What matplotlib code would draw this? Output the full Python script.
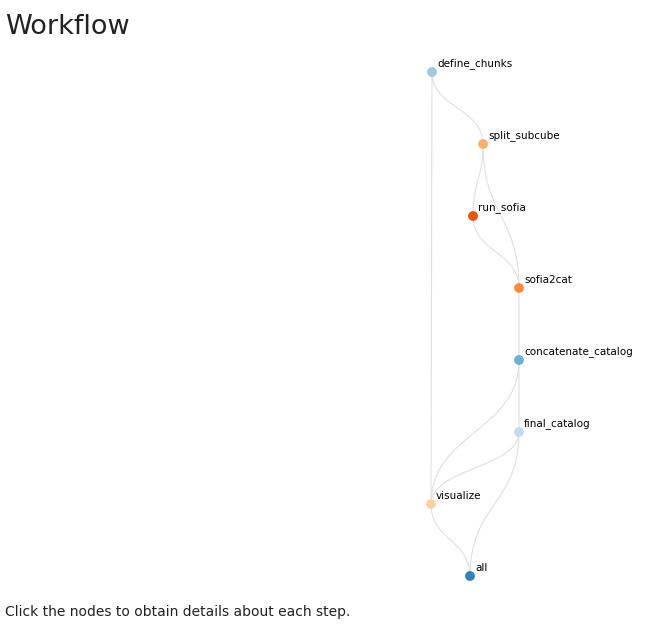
import numpy as np
import matplotlib.pyplot as plt
from matplotlib.path import Path
from matplotlib.patches import PathPatch

# layout of the workflow graph (pixel coordinates of the rendered DAG)
nodes = ["define_chunks", "split_subcube", "run_sofia", "sofia2cat",
         "concatenate_catalog", "final_catalog", "visualize", "all"]
node_x = [432, 483, 473, 519, 519, 519, 431, 470]
node_y = [72, 144, 216, 288, 360, 432, 504, 576]
node_colors = ["#9ecae1", "#fdae6b", "#e6550d", "#fd8d3c",
               "#6baed6", "#c6dbef", "#fdd0a2", "#3182bd"]
edges = [
    ("define_chunks", "split_subcube"),
    ("define_chunks", "visualize"),
    ("split_subcube", "run_sofia"),
    ("split_subcube", "sofia2cat"),
    ("run_sofia", "sofia2cat"),
    ("sofia2cat", "concatenate_catalog"),
    ("concatenate_catalog", "visualize"),
    ("concatenate_catalog", "final_catalog"),
    ("final_catalog", "visualize"),
    ("final_catalog", "all"),
    ("visualize", "all"),
]
straight = {("define_chunks", "visualize")}

pos = {n: (x, y) for n, x, y in zip(nodes, node_x, node_y)}

fig = plt.figure(figsize=(6.52, 6.24), dpi=100)
ax = fig.add_axes([0, 0, 1, 1])
ax.set_xlim(0, 652)
ax.set_ylim(624, 0)
ax.axis("off")

for a, b in edges:
    x0, y0 = pos[a]
    x1, y1 = pos[b]
    if (a, b) in straight:
        verts = [(x0, y0), (x1, y1)]
        codes = [Path.MOVETO, Path.LINETO]
    else:
        ym = (y0 + y1) / 2
        verts = [(x0, y0), (x0, ym), (x1, ym), (x1, y1)]
        codes = [Path.MOVETO, Path.CURVE4, Path.CURVE4, Path.CURVE4]
    ax.add_patch(PathPatch(Path(verts, codes), fill=False,
                           edgecolor="#e0e0e0", linewidth=0.8, zorder=1))

ax.scatter(node_x, node_y, s=50, c=node_colors, zorder=2, linewidths=0)
for n, x, y in zip(nodes, node_x, node_y):
    ax.text(x + 5, y - 3, n, fontsize=7.5, color="black", ha="left",
            va="bottom", zorder=3)

ax.text(5, 27, "Workflow", fontsize=19.5, color="#222222", va="center")
ax.text(5, 612, "Click the nodes to obtain details about each step.",
        fontsize=10, color="#222222", va="center")

fig.savefig("out.png", dpi=100)
